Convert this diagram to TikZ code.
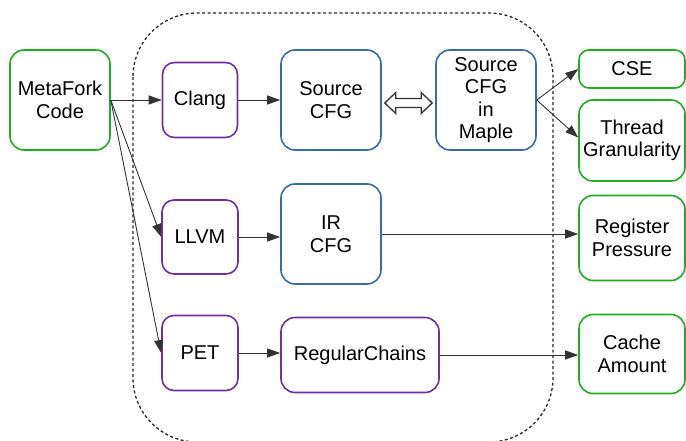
\documentclass[tikz,border=0pt]{standalone}
\usepackage{fontspec}
\setmainfont{Liberation Sans}
\usetikzlibrary{arrows.meta,calc}
\definecolor{cgreen}{RGB}{30,175,30}
\definecolor{cpurple}{RGB}{112,48,160}
\definecolor{cblue}{RGB}{58,106,168}
\definecolor{carrow}{RGB}{51,51,51}
\begin{document}
\begin{tikzpicture}[x=1pt,y=-1pt,
  font=\fontsize{20}{22.5}\selectfont,
  box/.style={draw, line width=1.6pt, rounded corners=14pt, align=center, inner sep=0pt, text=black},
  gbox/.style={box, draw=cgreen},
  pbox/.style={box, draw=cpurple},
  bbox/.style={box, draw=cblue},
  arr/.style={draw=carrow, line width=0.9pt, -{Triangle[length=13pt,width=9pt]}},
  region/.style={draw=black!85, line width=1.3pt, dash pattern=on 3pt off 2.5pt, rounded corners=64pt}
]
\useasboundingbox (0,0) rectangle (686,441);
\fill[white] (0,0) rectangle (686,441);

% dashed region
\draw[region] (133,13) rectangle (553,442);

% nodes
\node[gbox, minimum width=100pt, minimum height=100pt] (mf) at (60,100) {MetaFork\\Code};
\node[pbox, minimum width=75pt, minimum height=75pt, rounded corners=12pt] (clang) at (200,100) {Clang};
\node[bbox, minimum width=100pt, minimum height=100pt] (src) at (331,100) {Source\\CFG};
\node[bbox, minimum width=100pt, minimum height=100pt] (maple) at (486,100) {Source\\CFG\\in\\Maple};
\node[gbox, minimum width=106pt, minimum height=38pt, rounded corners=10pt] (cse) at (632,69) {CSE};
\node[gbox, minimum width=106pt, minimum height=81pt] (thread) at (632,140.5) {Thread\\Granularity};

\node[pbox, minimum width=76pt, minimum height=74pt, rounded corners=12pt] (llvm) at (200,237) {LLVM};
\node[bbox, minimum width=100pt, minimum height=100pt] (ir) at (331,234) {IR\\CFG};
\node[gbox, minimum width=106pt, minimum height=85pt] (rp) at (632,238) {Register\\Pressure};

\node[pbox, minimum width=76pt, minimum height=75pt, rounded corners=12pt] (pet) at (200,353) {PET};
\node[pbox, minimum width=158pt, minimum height=75pt] (rc) at (360,355) {RegularChains};
\node[gbox, minimum width=106pt, minimum height=79pt] (cache) at (632,354) {Cache\\Amount};

% connectors
\draw[arr] (mf.east) -- (clang.west);
\draw[arr] (mf.east) -- (llvm.west);
\draw[arr] (mf.east) -- (pet.west);
\draw[arr] (clang.east) -- (clang.east -| src.west);
\draw[arr] (llvm.east) -- (llvm.east -| ir.west);
\draw[arr] (pet.east) -- (pet.east -| rc.west);
\draw[arr] (maple.east) -- (cse.west);
\draw[arr] (maple.east) -- ($(thread.west)+(0,-3)$);
\draw[arr] (ir.east) -- (ir.east -| rp.west);
\draw[arr] (rc.east) -- (rc.east -| cache.west);

% hollow double arrow between src and maple
\coordinate (dl) at ($(src.east)+(3,3)$);
\coordinate (dr) at ($(maple.west)+(-3,3)$);
\draw[draw=carrow, fill=white, line width=1.3pt, line join=miter]
  (dl) -- ++(11,-10.5) -- ++(0,6) -- ($(dr)+(-11,-4.5)$) -- ++(0,-6) -- (dr)
  -- ++(-11,10.5) -- ++(0,-6) -- ($(dl)+(11,4.5)$) -- ++(0,6) -- cycle;
\end{tikzpicture}
\end{document}
